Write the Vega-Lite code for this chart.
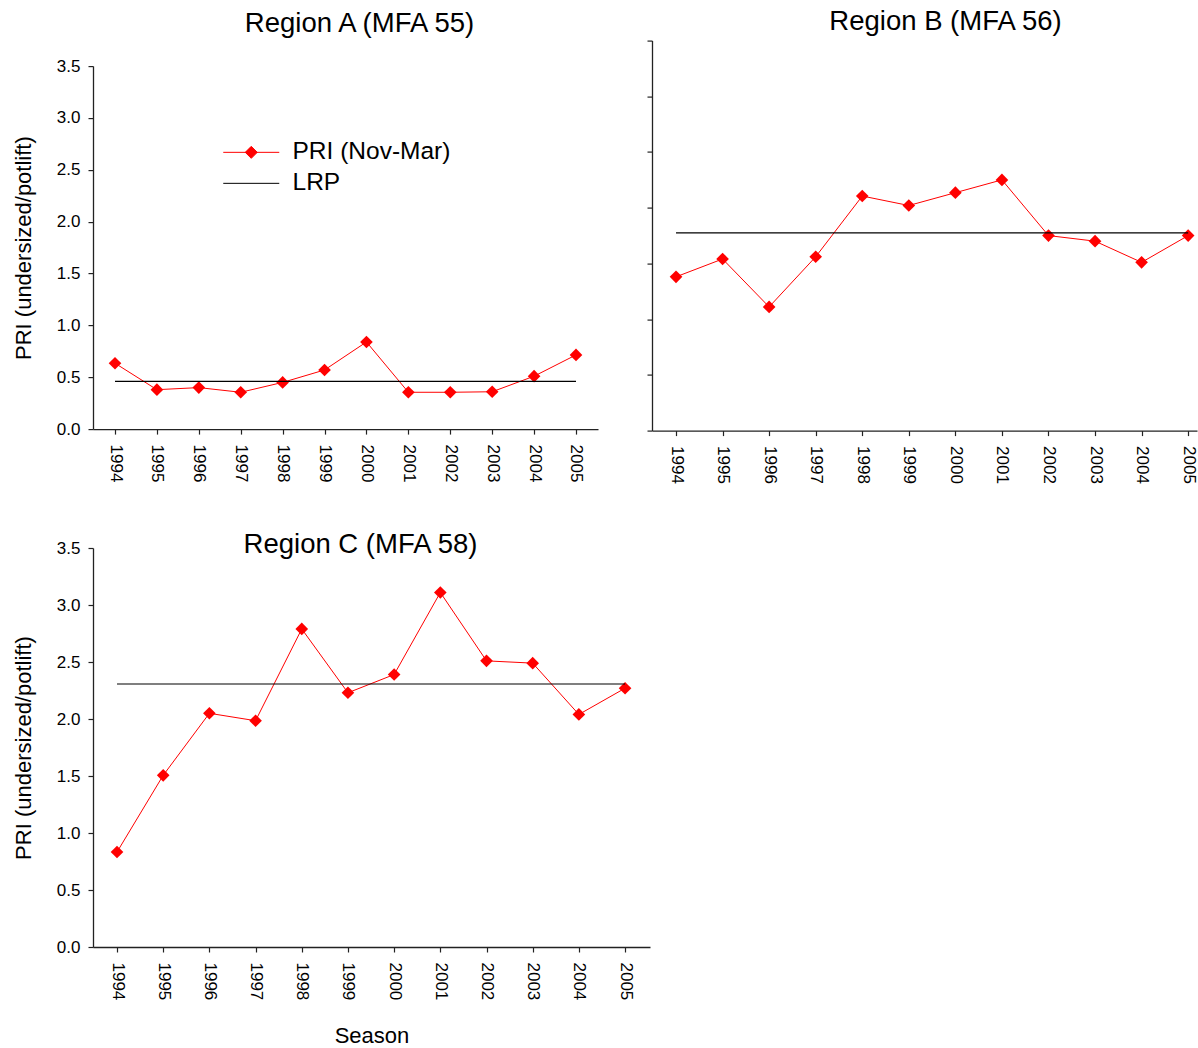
{
  "$schema": "https://vega.github.io/schema/vega-lite/v6.json",
  "padding": {"left": 12, "top": 7.5, "right": 0, "bottom": 0},
  "datasets": {
    "pri": [
      {"region": "A", "season": 1994, "pri": 0.635},
      {"region": "A", "season": 1995, "pri": 0.38},
      {"region": "A", "season": 1996, "pri": 0.40},
      {"region": "A", "season": 1997, "pri": 0.355},
      {"region": "A", "season": 1998, "pri": 0.45},
      {"region": "A", "season": 1999, "pri": 0.57},
      {"region": "A", "season": 2000, "pri": 0.84},
      {"region": "A", "season": 2001, "pri": 0.355},
      {"region": "A", "season": 2002, "pri": 0.355},
      {"region": "A", "season": 2003, "pri": 0.36},
      {"region": "A", "season": 2004, "pri": 0.51},
      {"region": "A", "season": 2005, "pri": 0.715},
      {"region": "B", "season": 1994, "pri": 1.38},
      {"region": "B", "season": 1995, "pri": 1.54},
      {"region": "B", "season": 1996, "pri": 1.11},
      {"region": "B", "season": 1997, "pri": 1.56},
      {"region": "B", "season": 1998, "pri": 2.105},
      {"region": "B", "season": 1999, "pri": 2.02},
      {"region": "B", "season": 2000, "pri": 2.135},
      {"region": "B", "season": 2001, "pri": 2.25},
      {"region": "B", "season": 2002, "pri": 1.75},
      {"region": "B", "season": 2003, "pri": 1.70},
      {"region": "B", "season": 2004, "pri": 1.51},
      {"region": "B", "season": 2005, "pri": 1.75},
      {"region": "C", "season": 1994, "pri": 0.833},
      {"region": "C", "season": 1995, "pri": 1.506},
      {"region": "C", "season": 1996, "pri": 2.05},
      {"region": "C", "season": 1997, "pri": 1.985},
      {"region": "C", "season": 1998, "pri": 2.79},
      {"region": "C", "season": 1999, "pri": 2.23},
      {"region": "C", "season": 2000, "pri": 2.39},
      {"region": "C", "season": 2001, "pri": 3.11},
      {"region": "C", "season": 2002, "pri": 2.51},
      {"region": "C", "season": 2003, "pri": 2.49},
      {"region": "C", "season": 2004, "pri": 2.04},
      {"region": "C", "season": 2005, "pri": 2.27}
    ],
    "lrp": [
      {"region": "A", "lrp": 0.46},
      {"region": "B", "lrp": 1.775},
      {"region": "C", "lrp": 2.307}
    ]
  },
  "resolve": {"scale": {"color": "independent"}, "legend": {"color": "independent"}},
  "spacing": 22.5,
  "vconcat": [
    {
      "spacing": 48,
      "center": true,
      "bounds": "full",
      "resolve": {"scale": {"color": "independent"}, "legend": {"color": "independent"}},
      "hconcat": [
        {
          "width": 505,
          "height": 363,
          "title": {"text": "Region A (MFA 55)", "dx": 14, "offset": 20},
          "layer": [
            {
              "data": {"name": "pri"},
              "transform": [{"filter": "datum.region === 'A'"}],
              "mark": {"type": "line", "strokeWidth": 1},
              "encoding": {
                "x": {"field": "season", "type": "quantitative", "title": null,
                      "scale": {"domain": [1993.475, 2005.525], "nice": false, "zero": false},
                      "axis": {"values": [1994,1995,1996,1997,1998,1999,2000,2001,2002,2003,2004,2005], "format": "d", "labelAngle": 90, "labelPadding": 10, "labelFlush": false, "labelOverlap": false}},
                "y": {"field": "pri", "type": "quantitative", "title": "PRI (undersized/potlift)",
                      "scale": {"domain": [0, 3.5], "nice": false},
                      "axis": {"values": [0,0.5,1,1.5,2,2.5,3,3.5], "format": ".1f", "labelPadding": 8, "titlePadding": 21}},
                "color": {"datum": "PRI (Nov-Mar)", "type": "nominal",
                          "scale": {"domain": ["PRI (Nov-Mar)", "LRP"], "range": ["#ff0000", "#000000"]},
                          "legend": {"orient": "none", "legendX": 146, "legendY": 74, "title": null,
                                     "labelFontSize": 24.5, "labelColor": "black", "symbolSize": 400, "labelOffset": 29,
                                     "rowPadding": 6, "symbolStrokeWidth": 1,
                                     "encode": {"symbols": {"update": {
                                        "shape": {"signal": "datum.value === 'LRP' ? 'M-2.8,0H2.8' : 'M-2.8,0H2.8M-0.6,0L0,-0.6L0.6,0L0,0.6Z'"},
                                        "fill": {"signal": "datum.value === 'LRP' ? 'transparent' : '#ff0000'"}
                                     }}}}}
              }
            },
            {
              "data": {"name": "pri"},
              "transform": [{"filter": "datum.region === 'A'"}],
              "mark": {"type": "point", "shape": "diamond", "filled": true, "size": 160, "color": "#ff0000", "opacity": 1},
              "encoding": {
                "x": {"field": "season", "type": "quantitative", "title": null},
                "y": {"field": "pri", "type": "quantitative", "title": "PRI (undersized/potlift)"}
              }
            },
            {
              "data": {"name": "lrp"},
              "transform": [{"filter": "datum.region === 'A'"}],
              "mark": {"type": "rule", "strokeWidth": 1.2},
              "encoding": {
                "x": {"datum": 1994, "type": "quantitative"},
                "x2": {"datum": 2005},
                "y": {"field": "lrp", "type": "quantitative", "title": "PRI (undersized/potlift)"},
                "color": {"datum": "LRP", "type": "nominal"}
              }
            }
          ]
        },
        {
          "width": 545,
          "height": 390,
          "title": {"text": "Region B (MFA 56)", "dx": 21, "offset": 4},
          "layer": [
            {
              "data": {"name": "pri"},
              "transform": [{"filter": "datum.region === 'B'"}],
              "mark": {"type": "line", "strokeWidth": 1, "color": "#ff0000"},
              "encoding": {
                "x": {"field": "season", "type": "quantitative", "title": " ",
                      "scale": {"domain": [1993.484, 2005.19], "nice": false, "zero": false},
                      "axis": {"values": [1994,1995,1996,1997,1998,1999,2000,2001,2002,2003,2004,2005], "format": "d", "labelAngle": 90, "labelPadding": 10, "labelFlush": false, "labelOverlap": false, "titleFontSize": 20, "titlePadding": 4}},
                "y": {"field": "pri", "type": "quantitative", "title": null,
                      "scale": {"domain": [0, 3.5], "nice": false},
                      "axis": {"values": [0,0.5,1,1.5,2,2.5,3,3.5], "labels": false}}
              }
            },
            {
              "data": {"name": "pri"},
              "transform": [{"filter": "datum.region === 'B'"}],
              "mark": {"type": "point", "shape": "diamond", "filled": true, "size": 160, "color": "#ff0000", "opacity": 1},
              "encoding": {
                "x": {"field": "season", "type": "quantitative", "title": " "},
                "y": {"field": "pri", "type": "quantitative", "title": null}
              }
            },
            {
              "data": {"name": "lrp"},
              "transform": [{"filter": "datum.region === 'B'"}],
              "mark": {"type": "rule", "strokeWidth": 1.2, "color": "#000000"},
              "encoding": {
                "x": {"datum": 1994, "type": "quantitative"},
                "x2": {"datum": 2005},
                "y": {"field": "lrp", "type": "quantitative", "title": null}
              }
            }
          ]
        }
      ]
    },
    {
      "width": 557,
      "height": 399,
      "title": {"text": "Region C (MFA 58)", "dx": -11, "offset": -19},
      "layer": [
        {
          "data": {"name": "pri"},
          "transform": [{"filter": "datum.region === 'C'"}],
          "mark": {"type": "line", "strokeWidth": 1, "color": "#ff0000"},
          "encoding": {
            "x": {"field": "season", "type": "quantitative", "title": "Season",
                  "scale": {"domain": [1993.48, 2005.54], "nice": false, "zero": false},
                  "axis": {"values": [1994,1995,1996,1997,1998,1999,2000,2001,2002,2003,2004,2005], "format": "d", "labelAngle": 90, "labelPadding": 10, "labelFlush": false, "labelOverlap": false, "titlePadding": 26}},
            "y": {"field": "pri", "type": "quantitative", "title": "PRI (undersized/potlift)",
                  "scale": {"domain": [0, 3.5], "nice": false},
                  "axis": {"values": [0,0.5,1,1.5,2,2.5,3,3.5], "format": ".1f", "labelPadding": 8, "titlePadding": 21}}
          }
        },
        {
          "data": {"name": "pri"},
          "transform": [{"filter": "datum.region === 'C'"}],
          "mark": {"type": "point", "shape": "diamond", "filled": true, "size": 160, "color": "#ff0000", "opacity": 1},
          "encoding": {
            "x": {"field": "season", "type": "quantitative", "title": "Season"},
            "y": {"field": "pri", "type": "quantitative", "title": "PRI (undersized/potlift)"}
          }
        },
        {
          "data": {"name": "lrp"},
          "transform": [{"filter": "datum.region === 'C'"}],
          "mark": {"type": "rule", "strokeWidth": 1.2, "color": "#000000"},
          "encoding": {
            "x": {"datum": 1994, "type": "quantitative"},
            "x2": {"datum": 2005},
            "y": {"field": "lrp", "type": "quantitative", "title": "PRI (undersized/potlift)"}
          }
        }
      ]
    }
  ],
  "config": {
    "font": "Liberation Sans",
    "view": {"stroke": null},
    "axis": {"domainColor": "#222222", "tickColor": "#222222", "labelColor": "black", "titleColor": "black",
             "labelFontSize": 17, "titleFontSize": 22, "titleFontWeight": "normal", "tickSize": 5, "grid": false,
             "labelFont": "Liberation Sans", "titleFont": "Liberation Sans", "domainWidth": 1.3, "tickWidth": 1.2},
    "title": {"fontSize": 27.5, "fontWeight": "normal", "color": "black", "font": "Liberation Sans"},
    "legend": {"labelFont": "Liberation Sans"}
  }
}
